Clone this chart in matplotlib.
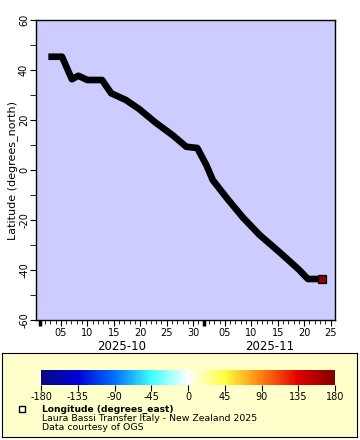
import matplotlib
matplotlib.use("Agg")
import matplotlib.pyplot as plt
import matplotlib.dates as mdates
import pandas as pd
from matplotlib.colors import LinearSegmentedColormap, Normalize
from matplotlib.cm import ScalarMappable

plt.rcParams["font.family"] = ["DejaVu Sans"]
plt.rcParams["axes.unicode_minus"] = False

# track
times = [
    "2025-10-02 15:00", "2025-10-05 05:00", "2025-10-07 02:00", "2025-10-08 07:00",
    "2025-10-10 00:00", "2025-10-12 19:00", "2025-10-14 12:00", "2025-10-17 07:00",
    "2025-10-19 19:00", "2025-10-23 00:00", "2025-10-26 02:00", "2025-10-28 17:00",
    "2025-10-30 19:00", "2025-11-01 12:00", "2025-11-02 17:00", "2025-11-05 07:00",
    "2025-11-08 10:00", "2025-11-11 14:00", "2025-11-15 10:00", "2025-11-19 02:00",
    "2025-11-20 17:00", "2025-11-23 07:00",
]
lat = [45.3, 45.3, 36.3, 37.7, 36.0, 36.0, 30.7, 28.0, 24.4, 18.8, 14.0, 9.3,
       8.8, 2.0, -4.0, -11.0, -19.0, -26.0, -33.0, -40.0, -43.6, -43.6]
last_lon = 172.0

cb_ticks = [-180, -135, -90, -45, 0, 45, 90, 135, 180]
cb_colors = ["#0a0a80", "#0000d8", "#0070ff", "#40ffff", "#ffffff",
             "#ffff40", "#ff8010", "#e00000", "#800000"]

t = pd.to_datetime(times)

fig = plt.figure(figsize=(3.6, 4.4), dpi=100)
ax = fig.add_axes([36 / 360, 1 - 320 / 440, 299 / 360, 300 / 440])
ax.set_facecolor("#ccccff")

ax.plot(t, lat, color="black", lw=4.8, solid_joinstyle="round", solid_capstyle="butt")
cmap = LinearSegmentedColormap.from_list("erd", cb_colors)
norm = Normalize(-180, 180)
ax.plot(t[-1:], lat[-1:], ls="none", marker="s", ms=5.5,
        mfc=cmap(norm(last_lon)), mec="black", mew=0.9)

ax.set_xlim(pd.Timestamp("2025-09-30 07:00"), pd.Timestamp("2025-11-25 20:00"))
ax.set_ylim(-60, 60)
ax.set_yticks([-60, -40, -20, 0, 20, 40, 60])
ax.set_yticks(range(-50, 60, 20), minor=True)
ax.tick_params(axis="y", which="both", length=4, labelsize=7, pad=1)
for lbl in ax.get_yticklabels():
    lbl.set_rotation(90)
    lbl.set_va("center")
ax.set_ylabel("Latitude (degrees_north)", fontsize=8, labelpad=1)

ax.xaxis.set_major_locator(mdates.DayLocator(bymonthday=[5, 10, 15, 20, 25, 30]))
ax.xaxis.set_major_formatter(mdates.DateFormatter("%d"))
ax.xaxis.set_minor_locator(mdates.DayLocator())
ax.tick_params(axis="x", which="major", length=4, labelsize=7, pad=2)
ax.tick_params(axis="x", which="minor", length=3)
for m in ["2025-10-01", "2025-11-01"]:
    ax.plot([pd.Timestamp(m)] * 2, [0, -0.02], transform=ax.get_xaxis_transform(),
            color="black", lw=2.5, clip_on=False, solid_capstyle="butt")
ax.text(pd.Timestamp("2025-10-16 12:00"), -0.088, "2025-10", transform=ax.get_xaxis_transform(),
        ha="center", va="center", fontsize=8.5)
ax.text(pd.Timestamp("2025-11-13 12:00"), -0.088, "2025-11", transform=ax.get_xaxis_transform(),
        ha="center", va="center", fontsize=8.5)
for s in ax.spines.values():
    s.set_linewidth(1)

# legend panel
leg = fig.add_axes([2 / 360, 1 - 437 / 440, 355 / 360, 84 / 440])
leg.set_facecolor("#ffffcc")
leg.set_xticks([])
leg.set_yticks([])
leg.set_xlim(0, 355)
leg.set_ylim(84, 0)
leg.plot([20], [56], marker="s", ms=4, mfc="white", mec="black", mew=1)
leg.text(40, 56, "Longitude (degrees_east)", fontsize=6.6, fontweight="bold", va="center")
leg.text(40, 65, "Laura Bassi Transfer Italy - New Zealand 2025", fontsize=6.75, va="center")
leg.text(40, 74, "Data courtesy of OGS", fontsize=6.75, va="center")

cax = fig.add_axes([41 / 360, 1 - 385 / 440, 294 / 360, 15 / 440])
cb = fig.colorbar(ScalarMappable(norm=norm, cmap=cmap), cax=cax, orientation="horizontal")
cb.set_ticks(cb_ticks)
cb.outline.set_visible(False)
cax.tick_params(length=4, labelsize=7, pad=1)

fig.savefig("out.png", dpi=100)
